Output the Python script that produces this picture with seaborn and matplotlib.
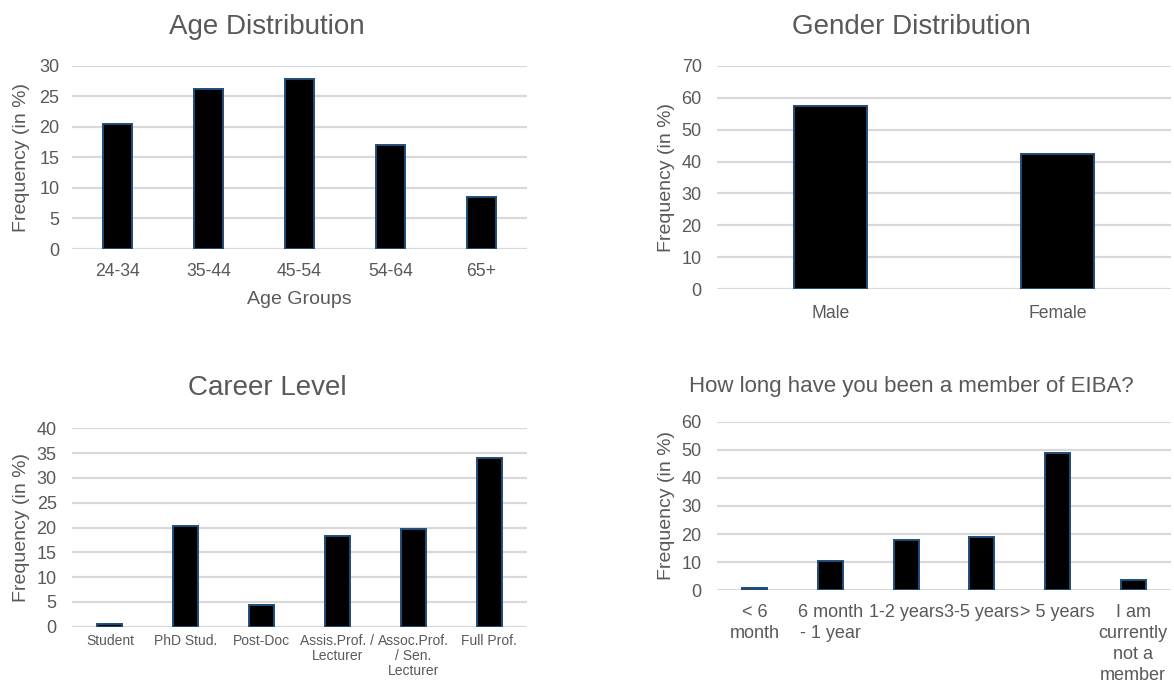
import matplotlib
matplotlib.use("Agg")
import matplotlib.pyplot as plt
import seaborn as sns
import pandas as pd

# Survey results, share of respondents in percent
age_groups = ["24-34", "35-44", "45-54", "54-64", "65+"]
age_share = [20.5, 26.2, 27.8, 17.0, 8.5]

genders = ["Male", "Female"]
gender_share = [57.5, 42.5]

career_levels = ["Student", "PhD Stud.", "Post-Doc", "Assis.Prof. /\nLecturer",
                 "Assoc.Prof.\n/ Sen.\nLecturer", "Full Prof."]
career_share = [0.5, 20.4, 4.3, 18.3, 19.6, 34.1]

membership_spans = ["< 6\nmonth", "6 month\n- 1 year", "1-2 years", "3-5 years",
                    "> 5 years", "I am\ncurrently\nnot a\nmember"]
membership_share = [0.9, 10.3, 17.9, 19.0, 49.0, 3.8]

sns.set_theme(style="white")
plt.rcParams["font.family"] = ["Liberation Sans", "DejaVu Sans"]

TEXT = "#595959"
GRID = "#d9d9d9"
EDGE = "#1f4e79"

W, H = 1174, 682
fig = plt.figure(figsize=(W / 100, H / 100), dpi=100)


def px_axes(x0, y0, x1, y1):
    return fig.add_axes([x0 / W, 1 - y1 / H, (x1 - x0) / W, (y1 - y0) / H])


def bar_panel(ax, cats, vals, ymax, step, bar_width, xtick_size, xpad, ypad,
              line_gap=1.2):
    df = pd.DataFrame({"category": cats, "share": vals})
    sns.barplot(data=df, x="category", y="share", ax=ax, color="black",
                saturation=1, edgecolor=EDGE, linewidth=1.4, width=bar_width)
    ax.set_ylim(0, ymax)
    ax.set_xlim(-0.5, len(cats) - 0.5)
    ax.set_yticks(range(0, ymax + 1, step))
    ax.yaxis.grid(True, color=GRID, linewidth=1.6)
    ax.set_axisbelow(True)
    for s in ax.spines.values():
        s.set_visible(False)
    ax.tick_params(axis="y", length=0, pad=ypad, labelsize=13, labelcolor=TEXT)
    ax.tick_params(axis="x", length=0, pad=xpad, labelsize=xtick_size, labelcolor=TEXT)
    ax.set_xlabel("")
    ax.set_ylabel("Frequency (in %)", fontsize=14, color=TEXT)
    ax.yaxis.set_label_coords(-0.092, 0.5)
    for lab in ax.get_xticklabels():
        lab.set_linespacing(line_gap)
    return ax


ax_age = px_axes(72, 65.7, 527, 249)
bar_panel(ax_age, age_groups, age_share, 30, 5, 0.32, 12.7, 10, 9)
ax_age.set_xlabel("Age Groups", fontsize=14, color=TEXT, labelpad=8)

ax_gender = px_axes(717, 65.7, 1171, 289.3)
bar_panel(ax_gender, genders, gender_share, 70, 10, 0.32, 12.7, 11, 11)

ax_career = px_axes(72, 428.3, 527, 626.7)
bar_panel(ax_career, career_levels, career_share, 40, 5, 0.33, 10, 5, 11,
          line_gap=1.1)

ax_member = px_axes(717, 421.7, 1171, 590.3)
bar_panel(ax_member, membership_spans, membership_share, 60, 10, 0.33, 13, 10, 11,
          line_gap=1.3)

# Chart titles, centred over each chart area
fig.text(267 / W, 1 - 27 / H, "Age Distribution", fontsize=20, color=TEXT,
         ha="center", va="center")
fig.text(911 / W, 1 - 27 / H, "Gender Distribution", fontsize=20, color=TEXT,
         ha="center", va="center")
fig.text(267 / W, 1 - 388 / H, "Career Level", fontsize=20, color=TEXT,
         ha="center", va="center")
fig.text(911 / W, 1 - 386 / H, "How long have you been a member of EIBA?",
         fontsize=16, color=TEXT, ha="center", va="center")

fig.savefig("out.png", dpi=100, facecolor="white")
